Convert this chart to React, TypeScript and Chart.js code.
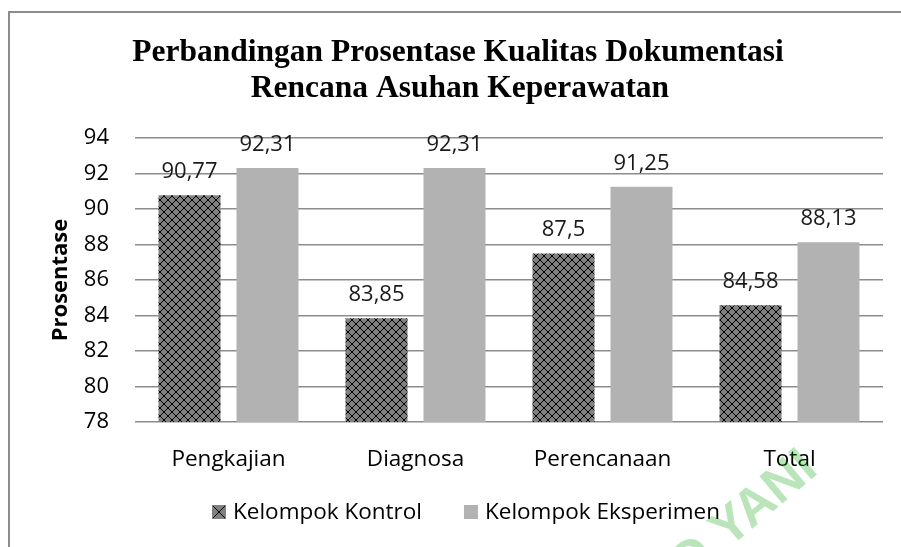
import React, { useEffect, useRef } from "react";
import { Chart, registerables } from "chart.js";

Chart.register(...registerables);

const categories = ["Pengkajian", "Diagnosa", "Perencanaan", "Total"];
const kontrolValues = [90.77, 83.85, 87.5, 84.58];
const eksperimenValues = [92.31, 92.31, 91.25, 88.13];
const seriesNames = ["Kelompok Kontrol", "Kelompok Eksperimen"];
const titleLines = [
  "Perbandingan Prosentase Kualitas Dokumentasi",
  "Rencana Asuhan Keperawatan",
];
const yAxisTitle = "Prosentase";
const yMin = 78;
const yMax = 94;
const yStep = 2;
const watermarkBefore = "ACHMAD ";
const watermarkText = "YANI";

const SANS = "'Open Sans', 'Noto Sans', sans-serif";
const SERIF = "'Liberation Serif', 'DejaVu Serif', serif";

function makeCrossPattern(): CanvasPattern | string {
  const c = document.createElement("canvas");
  c.width = 8;
  c.height = 8;
  const g = c.getContext("2d");
  if (!g) return "#808080";
  g.fillStyle = "#808080";
  g.fillRect(0, 0, 8, 8);
  g.fillStyle = "#000000";
  for (let i = 0; i < 8; i++) {
    g.fillRect(i, i, 1, 1);
    g.fillRect(7 - i, i, 1, 1);
  }
  return g.createPattern(c, "repeat") || "#808080";
}

const formatValue = (v: number) => String(v).replace(".", ",");

const dataLabelPlugin = {
  id: "dataLabels",
  afterDatasetsDraw(chart: any) {
    const ctx = chart.ctx;
    ctx.save();
    ctx.font = `22px ${SANS}`;
    ctx.fillStyle = "#1a1a1a";
    ctx.textAlign = "center";
    ctx.textBaseline = "alphabetic";
    chart.data.datasets.forEach((ds: any, di: number) => {
      const meta = chart.getDatasetMeta(di);
      meta.data.forEach((el: any, i: number) => {
        ctx.fillText(formatValue(ds.data[i]), el.x, el.y - 17);
      });
    });
    ctx.restore();
  },
};

const decorPlugin = {
  id: "decor",
  afterDraw(chart: any) {
    const ctx = chart.ctx;
    ctx.save();
    // Title
    ctx.font = `bold 31.5px ${SERIF}`;
    ctx.fillStyle = "#000";
    ctx.textAlign = "center";
    ctx.textBaseline = "alphabetic";
    ctx.fillText(titleLines[0], 458, 61);
    ctx.fillText(titleLines[1], 460, 97);

    // Legend
    ctx.font = `22.5px ${SANS}`;
    const w1 = ctx.measureText(seriesNames[0]).width;
    const w2 = ctx.measureText(seriesNames[1]).width;
    const box = 14;
    const gapText = 7;
    const gapItem = 42;
    const total = box + gapText + w1 + gapItem + box + gapText + w2;
    let x = Math.round(466 - total / 2);
    const boxTop = 505;
    const baseY = 519;
    ctx.fillStyle = "#808080";
    ctx.fillRect(x, boxTop, box, box);
    ctx.strokeStyle = "#000";
    ctx.lineWidth = 1;
    ctx.beginPath();
    ctx.moveTo(x + 1, boxTop + 1);
    ctx.lineTo(x + box - 1, boxTop + box - 1);
    ctx.moveTo(x + box - 1, boxTop + 1);
    ctx.lineTo(x + 1, boxTop + box - 1);
    ctx.stroke();
    ctx.fillStyle = "#000";
    ctx.textAlign = "left";
    ctx.fillText(seriesNames[0], x + box + gapText, baseY);
    x += box + gapText + w1 + gapItem;
    ctx.fillStyle = "#b2b2b2";
    ctx.fillRect(x, boxTop, box, box);
    ctx.fillStyle = "#000";
    ctx.fillText(seriesNames[1], x + box + gapText, baseY);

    // Watermark
    ctx.font = `bold 52px 'Liberation Sans', sans-serif`;
    ctx.fillStyle = "rgba(0,160,0,0.27)";
    ctx.translate(728, 549);
    ctx.rotate((-40 * Math.PI) / 180);
    ctx.textAlign = "left";
    const wb = ctx.measureText(watermarkBefore).width;
    ctx.fillText(watermarkBefore, -wb, 0);
    ctx.fillText(watermarkText, 0, 0);
    ctx.restore();
  },
};

export default function App() {
  const canvasRef = useRef<HTMLCanvasElement | null>(null);

  useEffect(() => {
    const canvas = canvasRef.current;
    if (!canvas) return;
    const pattern = makeCrossPattern();
    const chart = new Chart(canvas, {
      type: "bar",
      data: {
        labels: categories,
        datasets: [
          {
            label: seriesNames[0],
            data: kontrolValues,
            backgroundColor: pattern as any,
            borderWidth: 0,
            categoryPercentage: 0.834,
            barPercentage: 0.795,
          },
          {
            label: seriesNames[1],
            data: eksperimenValues,
            backgroundColor: "#b2b2b2",
            borderWidth: 0,
            categoryPercentage: 0.834,
            barPercentage: 0.795,
          },
        ],
      },
      options: {
        responsive: false,
        animation: false,
        events: [],
        layout: { padding: { top: 138, left: 40, right: 18, bottom: 65 } },
        plugins: {
          legend: { display: false },
          title: { display: false },
          tooltip: { enabled: false },
        },
        scales: {
          x: {
            grid: { display: false },
            border: { display: false },
            ticks: {
              color: "#000",
              font: { family: SANS, size: 22.5 },
              padding: 16,
              maxRotation: 0,
            },
            afterFit(scale: any) {
              scale.height = 60;
            },
          },
          y: {
            min: yMin,
            max: yMax,
            grid: { color: "#8c8c8c", lineWidth: 1.5, drawTicks: false },
            border: { display: false },
            ticks: {
              stepSize: yStep,
              color: "#000",
              font: { family: SANS, size: 22 },
              padding: 26,
            },
            title: {
              display: true,
              text: yAxisTitle,
              color: "#000",
              font: { family: SANS, size: 22, weight: "bold" },
              padding: { top: 8, bottom: 0 },
            },
            afterFit(scale: any) {
              scale.width = 95;
            },
          },
        },
      },
      plugins: [dataLabelPlugin, decorPlugin],
    });
    return () => chart.destroy();
  }, []);

  return (
    <div
      style={{
        position: "fixed",
        left: 0,
        top: 0,
        width: 901,
        height: 547,
        overflow: "hidden",
        background: "#fff",
      }}
    >
      <div
        style={{
          position: "absolute",
          left: 8,
          top: 11,
          width: 1000,
          height: 800,
          border: "2px solid #8c8c8c",
          boxSizing: "border-box",
        }}
      />
      <canvas
        ref={canvasRef}
        width={901}
        height={547}
        style={{ position: "absolute", left: 0, top: 0, width: 901, height: 547 }}
      />
    </div>
  );
}
